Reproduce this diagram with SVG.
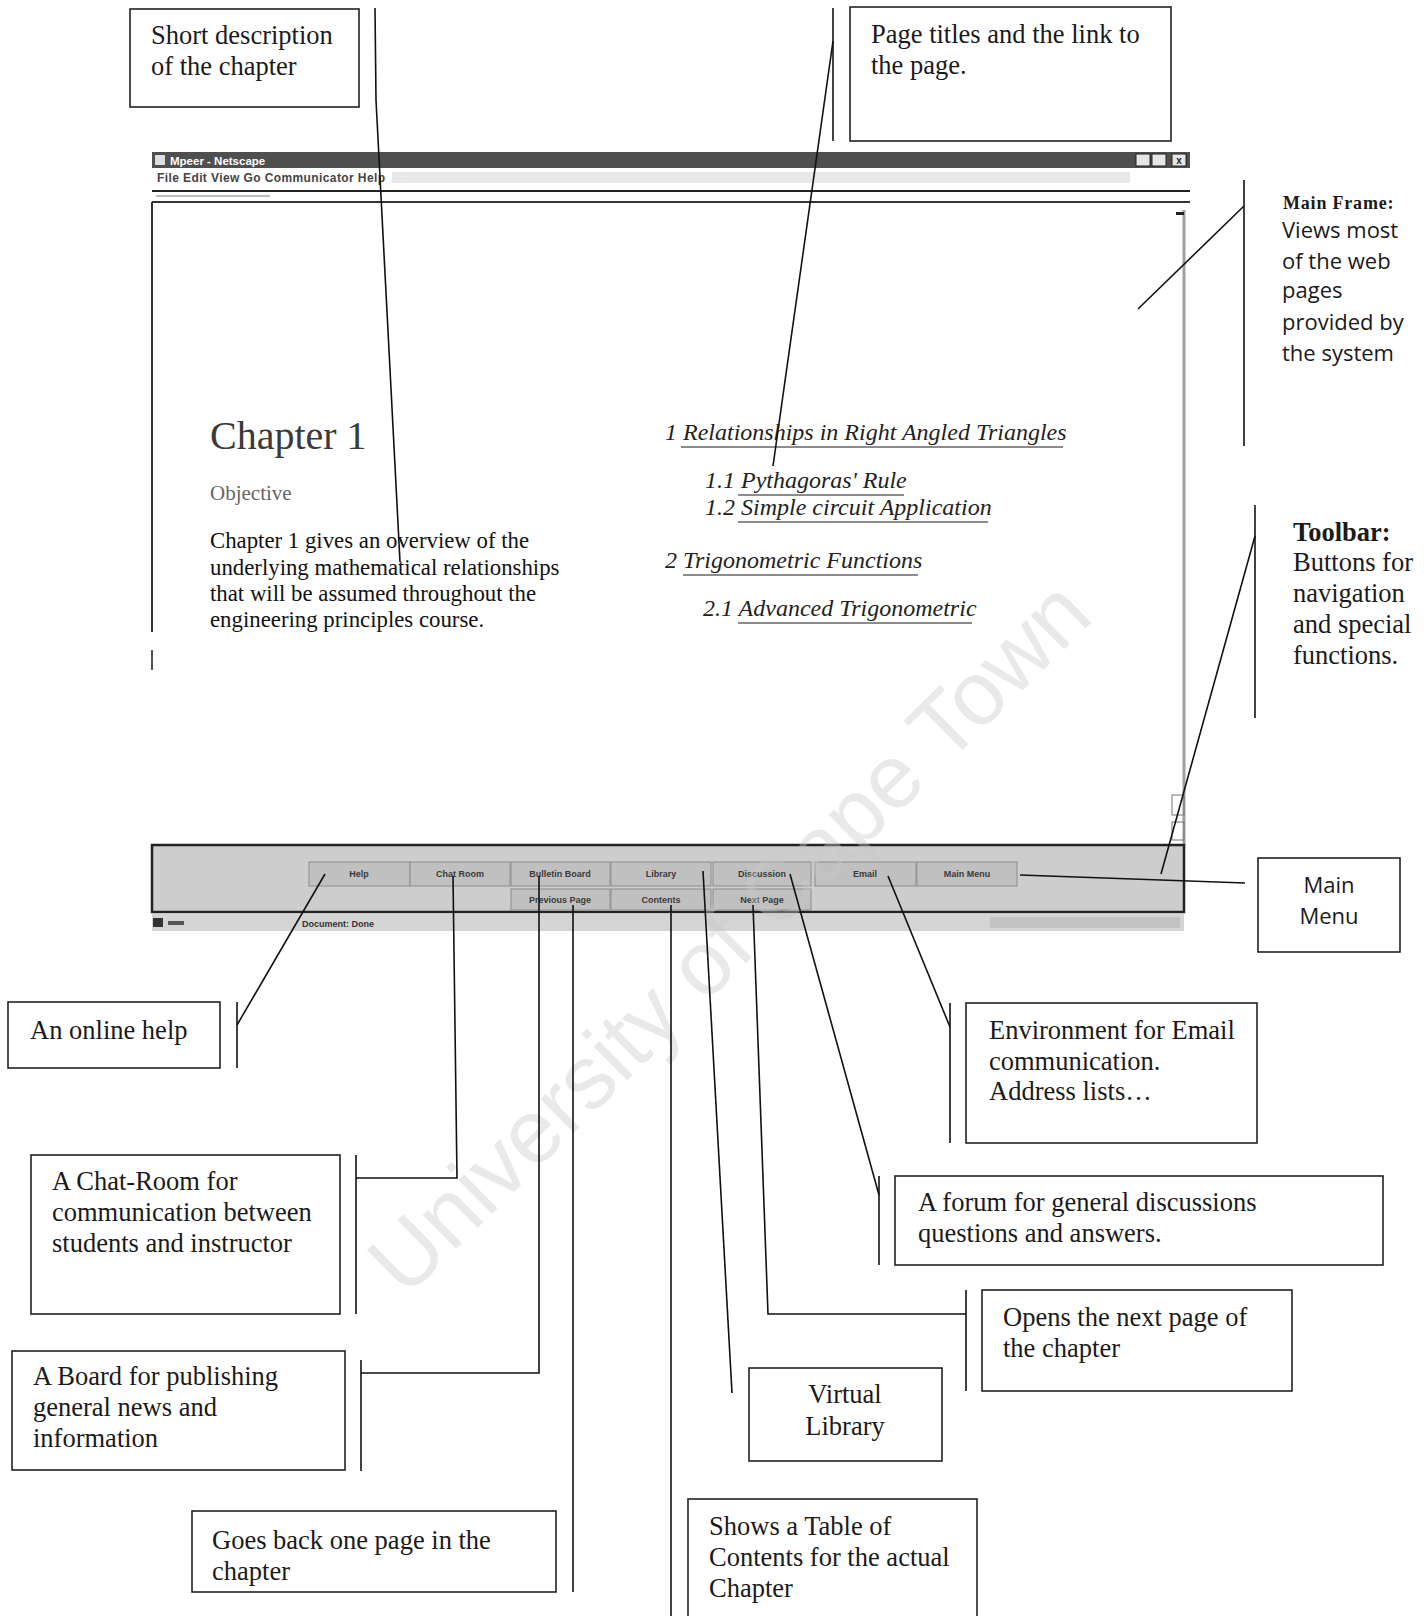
<svg xmlns="http://www.w3.org/2000/svg" width="1426" height="1616" viewBox="0 0 1426 1616">
<style>
.box{fill:#fff;stroke:#222;stroke-width:1.6}
.lbl{font-family:"Liberation Serif","Times New Roman",serif;font-size:26.5px;fill:#1a1a1a}
.sans{font-family:"Open Sans","Noto Sans",sans-serif;font-size:22px;fill:#1a1a1a}
.conn line,.conn polyline{stroke:#111;stroke-width:1.6;fill:none}
.btn{fill:#c0c0c0;stroke:#8c8c8c;stroke-width:1}
.btxt{font-family:"Liberation Sans",Arial,sans-serif;font-size:9px;font-weight:bold;fill:#3a3a3a;text-anchor:middle}
.link{font-family:"Liberation Serif","Times New Roman",serif;font-style:italic;font-size:24px;fill:#222}
.ul{stroke:#666;stroke-width:1.3}
.tiny{font-family:"Liberation Sans",Arial,sans-serif;font-size:12px;font-weight:bold;fill:#444}
</style>
<rect x="0" y="0" width="1426" height="1616" fill="#fff"/>

<!-- browser window screenshot -->
<g id="browser">
  <rect x="152" y="152" width="1038" height="16" fill="#4f4f4f"/>
  <rect x="155" y="155" width="10" height="10" fill="#ddd"/>
  <text x="170" y="164.5" font-family="Liberation Sans,Arial,sans-serif" font-size="11.5" font-weight="bold" fill="#fff">Mpeer - Netscape</text>
  <rect x="1136" y="154" width="14" height="12" fill="#e6e6e6" stroke="#222"/>
  <rect x="1152" y="154" width="14" height="12" fill="#e6e6e6" stroke="#222"/>
  <rect x="1172" y="154" width="14" height="12" fill="#e6e6e6" stroke="#222"/>
  <text x="1179" y="164" font-family="Liberation Sans,Arial,sans-serif" font-size="10" font-weight="bold" fill="#222" text-anchor="middle">x</text>
  <rect x="392" y="172" width="738" height="11" fill="#e8e8e8"/>
  <text x="157" y="182" class="tiny" letter-spacing="0.4">File  Edit  View  Go  Communicator  Help</text>
  <line x1="152" y1="191" x2="1190" y2="191" stroke="#222" stroke-width="2"/>
  <line x1="156" y1="196" x2="270" y2="196" stroke="#bbb" stroke-width="2"/>
  <line x1="152" y1="202" x2="1190" y2="202" stroke="#333" stroke-width="2"/>
  <line x1="152" y1="202" x2="152" y2="632" stroke="#333" stroke-width="2"/>
  <line x1="152" y1="650" x2="152" y2="670" stroke="#555" stroke-width="2"/>
  <line x1="1184" y1="210" x2="1184" y2="845" stroke="#a0a0a0" stroke-width="3"/>
  <rect x="1176" y="212" width="8" height="3" fill="#222"/>
  <rect x="1172" y="795" width="12" height="20" fill="none" stroke="#777"/>
  <rect x="1172" y="822" width="12" height="18" fill="none" stroke="#777"/>

  <!-- page content -->
  <text x="210" y="449" font-family="Liberation Serif,Times New Roman,serif" font-size="40" fill="#3a3a3a">Chapter 1</text>
  <text x="210" y="500" font-family="Liberation Serif,Times New Roman,serif" font-size="21" fill="#666">Objective</text>
  <g font-family="Liberation Serif,Times New Roman,serif" font-size="22.8" fill="#111">
    <text x="210" y="548">Chapter 1 gives an overview of the</text>
    <text x="210" y="575">underlying mathematical relationships</text>
    <text x="210" y="601">that will be assumed throughout the</text>
    <text x="210" y="627">engineering principles course.</text>
  </g>
  <text x="665" y="440" class="link">1 Relationships in Right Angled Triangles</text>
  <line x1="681" y1="447" x2="1063" y2="447" class="ul"/>
  <text x="705" y="488" class="link">1.1 Pythagoras' Rule</text>
  <line x1="738" y1="495" x2="904" y2="495" class="ul"/>
  <text x="705" y="515" class="link">1.2 Simple circuit Application</text>
  <line x1="738" y1="522" x2="988" y2="522" class="ul"/>
  <text x="665" y="568" class="link">2 Trigonometric Functions</text>
  <line x1="683" y1="575" x2="918" y2="575" class="ul"/>
  <text x="703" y="616" class="link">2.1 Advanced Trigonometric</text>
  <line x1="738" y1="623" x2="972" y2="623" class="ul"/>

  <!-- toolbar frame -->
  <rect x="152" y="845" width="1032" height="67" fill="#cdcdcd" stroke="#222" stroke-width="2.5"/>
  <rect x="309" y="862" width="101" height="24" class="btn"/>
  <rect x="410" y="862" width="100" height="24" class="btn"/>
  <rect x="511" y="862" width="99" height="24" class="btn"/>
  <rect x="611" y="862" width="100" height="24" class="btn"/>
  <rect x="713" y="862" width="98" height="24" class="btn"/>
  <rect x="815" y="862" width="101" height="24" class="btn"/>
  <rect x="917" y="862" width="100" height="24" class="btn"/>
  <rect x="511" y="889" width="99" height="21" class="btn"/>
  <rect x="611" y="889" width="100" height="21" class="btn"/>
  <rect x="713" y="889" width="98" height="21" class="btn"/>
  <text x="359" y="877" class="btxt">Help</text>
  <text x="460" y="877" class="btxt">Chat Room</text>
  <text x="560" y="877" class="btxt">Bulletin Board</text>
  <text x="661" y="877" class="btxt">Library</text>
  <text x="762" y="877" class="btxt">Discussion</text>
  <text x="865" y="877" class="btxt">Email</text>
  <text x="967" y="877" class="btxt">Main Menu</text>
  <text x="560" y="903" class="btxt">Previous Page</text>
  <text x="661" y="903" class="btxt">Contents</text>
  <text x="762" y="903" class="btxt">Next Page</text>

  <!-- status bar -->
  <rect x="152" y="914" width="1032" height="17" fill="#d4d4d4"/>
  <rect x="153" y="918" width="10" height="9" fill="#333"/>
  <rect x="168" y="921" width="16" height="4" fill="#555"/>
  <text x="302" y="927" font-family="Liberation Sans,Arial,sans-serif" font-size="9" font-weight="bold" fill="#333">Document: Done</text>
  <rect x="990" y="917" width="190" height="11" fill="#c2c2c2"/>
</g>

<!-- watermark -->
<text transform="translate(728,936) rotate(-44.6)" x="0" y="32" text-anchor="middle" font-family="Liberation Sans,Arial,sans-serif" font-size="90" fill="#c8c8c8" fill-opacity="0.4">University of Cape Town</text>

<!-- connectors -->
<g id="connectors" class="conn">
  <polyline points="375,8 376,100 400,562"/>
  <line x1="833" y1="8" x2="833" y2="141"/>
  <line x1="833" y1="41" x2="773" y2="466"/>
  <line x1="1244" y1="180" x2="1244" y2="446"/>
  <line x1="1244" y1="206" x2="1138" y2="309"/>
  <line x1="1255" y1="505" x2="1255" y2="718"/>
  <line x1="1255" y1="536" x2="1161" y2="874"/>
  <line x1="1020" y1="875" x2="1245" y2="883"/>
  <line x1="237" y1="1002" x2="237" y2="1068"/>
  <line x1="237" y1="1025" x2="325" y2="874"/>
  <line x1="356" y1="1155" x2="356" y2="1314"/>
  <polyline points="356,1178 457,1178 453,876"/>
  <line x1="361" y1="1360" x2="361" y2="1471"/>
  <polyline points="361,1373 539,1373 539,876"/>
  <line x1="573" y1="905" x2="573" y2="1592"/>
  <line x1="671" y1="905" x2="671" y2="1616"/>
  <line x1="703" y1="871" x2="732" y2="1393"/>
  <polyline points="753,905 768,1314 966,1314"/>
  <line x1="966" y1="1290" x2="966" y2="1391"/>
  <line x1="790" y1="874" x2="879" y2="1195"/>
  <line x1="879" y1="1176" x2="879" y2="1265"/>
  <line x1="888" y1="876" x2="950" y2="1027"/>
  <line x1="950" y1="1003" x2="950" y2="1143"/>
</g>

<!-- callouts -->
<g id="short-description">
  <rect x="130" y="9" width="229" height="98" class="box"/>
  <text x="151" y="44" class="lbl">Short description</text>
  <text x="151" y="75" class="lbl">of the chapter</text>
</g>
<g id="page-titles">
  <rect x="850" y="7" width="321" height="134" class="box"/>
  <text x="871" y="43" class="lbl">Page titles and the link to</text>
  <text x="871" y="74" class="lbl">the page.</text>
</g>
<g id="main-frame">
  <text x="1283" y="209" font-family="Liberation Serif,Times New Roman,serif" font-size="18" font-weight="bold" letter-spacing="0.8" fill="#1a1a1a">Main Frame:</text>
  <text x="1282" y="238" class="sans">Views most</text>
  <text x="1282" y="269" class="sans">of the web</text>
  <text x="1282" y="298" class="sans">pages</text>
  <text x="1282" y="330" class="sans">provided by</text>
  <text x="1282" y="361" class="sans">the system</text>
</g>
<g id="toolbar">
  <text x="1293" y="541" class="lbl" font-size="25" font-weight="bold">Toolbar:</text>
  <text x="1293" y="571" class="lbl" font-size="25">Buttons for</text>
  <text x="1293" y="602" class="lbl" font-size="25">navigation</text>
  <text x="1293" y="633" class="lbl" font-size="25">and special</text>
  <text x="1293" y="664" class="lbl" font-size="25">functions.</text>
</g>
<g id="main-menu">
  <rect x="1258" y="858" width="142" height="94" class="box"/>
  <text x="1329" y="893" class="sans" font-size="23" text-anchor="middle">Main</text>
  <text x="1329" y="924" class="sans" font-size="23" text-anchor="middle">Menu</text>
</g>
<g id="online-help">
  <rect x="8" y="1002" width="212" height="66" class="box"/>
  <text x="30" y="1039" class="lbl" font-size="25.5">An online help</text>
</g>
<g id="email">
  <rect x="966" y="1003" width="291" height="140" class="box"/>
  <text x="989" y="1039" class="lbl">Environment for Email</text>
  <text x="989" y="1070" class="lbl">communication.</text>
  <text x="989" y="1100" class="lbl">Address lists…</text>
</g>
<g id="chat-room">
  <rect x="31" y="1155" width="309" height="159" class="box"/>
  <text x="52" y="1190" class="lbl">A Chat-Room for</text>
  <text x="52" y="1221" class="lbl">communication between</text>
  <text x="52" y="1252" class="lbl">students and instructor</text>
</g>
<g id="discussion">
  <rect x="895" y="1176" width="488" height="89" class="box"/>
  <text x="918" y="1211" class="lbl">A forum for general discussions</text>
  <text x="918" y="1242" class="lbl">questions and answers.</text>
</g>
<g id="next-page">
  <rect x="982" y="1290" width="310" height="101" class="box"/>
  <text x="1003" y="1326" class="lbl">Opens the next page of</text>
  <text x="1003" y="1357" class="lbl">the chapter</text>
</g>
<g id="bulletin-board">
  <rect x="12" y="1351" width="333" height="119" class="box"/>
  <text x="33" y="1385" class="lbl">A Board for publishing</text>
  <text x="33" y="1416" class="lbl">general news and</text>
  <text x="33" y="1447" class="lbl">information</text>
</g>
<g id="library">
  <rect x="749" y="1368" width="193" height="93" class="box"/>
  <text x="845" y="1403" class="lbl" text-anchor="middle">Virtual</text>
  <text x="845" y="1435" class="lbl" text-anchor="middle">Library</text>
</g>
<g id="previous-page">
  <rect x="192" y="1511" width="364" height="81" class="box"/>
  <text x="212" y="1549" class="lbl">Goes back one page in the</text>
  <text x="212" y="1580" class="lbl">chapter</text>
</g>
<g id="contents">
  <rect x="688" y="1499" width="289" height="130" class="box"/>
  <text x="709" y="1535" class="lbl">Shows a Table of</text>
  <text x="709" y="1566" class="lbl">Contents for the actual</text>
  <text x="709" y="1597" class="lbl">Chapter</text>
</g>
</svg>
